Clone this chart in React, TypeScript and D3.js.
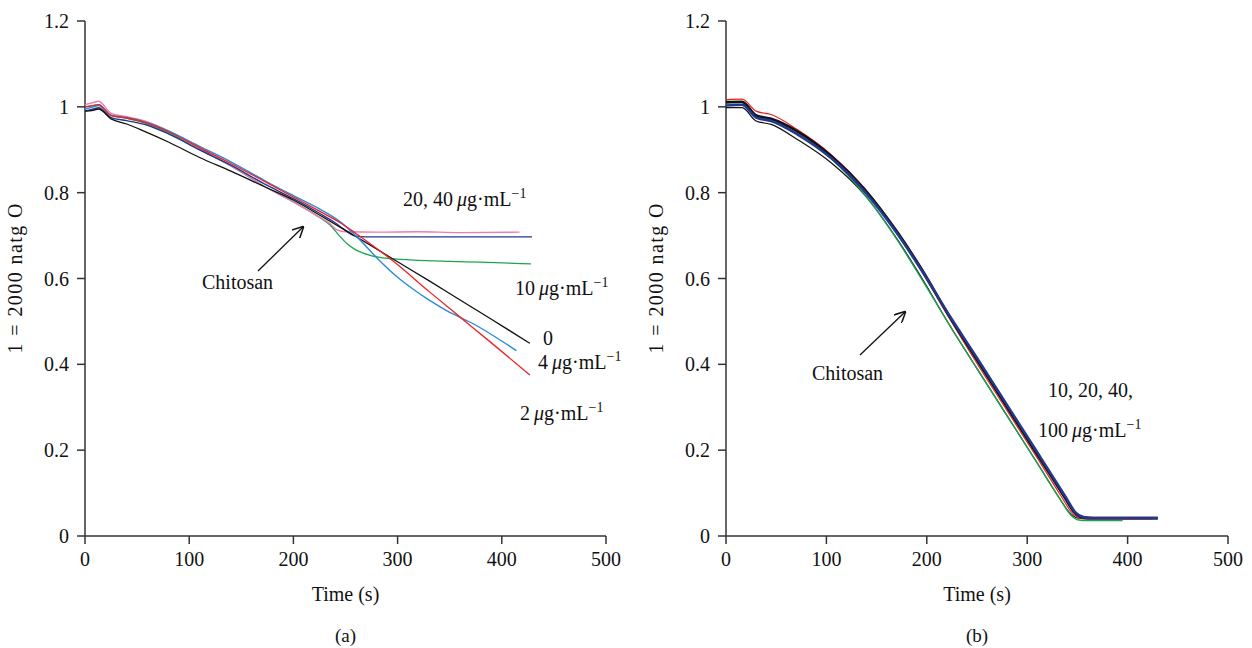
import React from "react";
import * as d3 from "d3";

// ---------- Panel (a) data: [time s, value] ----------
const aCtrl0: [number, number][] = [[0,0.99],[8,0.992],[13,0.995],[25,0.972],[40,0.96],[56,0.944],[80,0.918],[110,0.882],[140,0.85],[174,0.812],[200,0.783],[225,0.748],[250,0.712],[275,0.676],[300,0.639],[330,0.595],[360,0.55],[390,0.505],[427,0.449]];
const aRed2: [number, number][] = [[0,1.0],[8,1.003],[13,1.005],[25,0.98],[40,0.974],[60,0.962],[80,0.942],[110,0.905],[140,0.868],[174,0.824],[200,0.79],[225,0.757],[245,0.73],[260,0.705],[296,0.64],[330,0.57],[360,0.51],[390,0.45],[427,0.375]];
const aBlue4: [number, number][] = [[0,0.995],[8,1.0],[13,1.003],[25,0.98],[40,0.975],[60,0.963],[80,0.944],[110,0.908],[140,0.872],[174,0.826],[200,0.793],[225,0.762],[245,0.732],[261,0.697],[283,0.641],[300,0.603],[315,0.575],[330,0.55],[347,0.525],[373,0.494],[395,0.462],[414,0.432]];
const aGreen10: [number, number][] = [[0,1.0],[8,1.003],[13,1.005],[25,0.98],[40,0.973],[60,0.96],[80,0.94],[110,0.9],[140,0.862],[174,0.812],[200,0.779],[220,0.75],[237,0.72],[244,0.7],[251,0.682],[259,0.668],[267,0.659],[283,0.649],[300,0.645],[315,0.643],[350,0.64],[379,0.638],[428,0.634]];
const aPink: [number, number][] = [[0,1.005],[8,1.01],[13,1.013],[25,0.985],[40,0.977],[60,0.965],[80,0.944],[110,0.903],[140,0.863],[174,0.812],[200,0.778],[220,0.75],[235,0.728],[242,0.713],[250,0.709],[280,0.708],[320,0.709],[360,0.707],[417,0.708]];
const aDkBlue: [number, number][] = [[0,0.99],[8,0.995],[13,0.998],[25,0.975],[40,0.968],[60,0.957],[80,0.937],[110,0.9],[140,0.864],[174,0.818],[200,0.786],[225,0.752],[240,0.73],[250,0.712],[258,0.7],[270,0.697],[320,0.697],[380,0.697],[429,0.697]];

// ---------- Panel (b) data ----------
const bThinBlack: [number, number][] = [[0,0.998],[16,0.998],[30,0.967],[45,0.959],[71,0.924],[105,0.869],[138,0.795],[171,0.69],[194,0.605],[223,0.49],[250,0.39],[280,0.28],[310,0.17],[333,0.085],[342,0.055],[350,0.042],[360,0.04],[430,0.04]];
const bThickBlack: [number, number][] = [[0,1.011],[16,1.012],[30,0.98],[45,0.972],[71,0.943],[105,0.885],[138,0.808],[171,0.707],[194,0.625],[223,0.51],[250,0.41],[280,0.3],[310,0.19],[336,0.095],[346,0.058],[354,0.044],[365,0.042],[430,0.042]];
const bRed: [number, number][] = [[0,1.017],[16,1.018],[30,0.99],[45,0.982],[71,0.947],[105,0.888],[138,0.81],[171,0.705],[194,0.62],[223,0.505],[250,0.402],[280,0.292],[310,0.182],[334,0.092],[344,0.056],[352,0.042],[362,0.04],[425,0.04]];
const bGreen: [number, number][] = [[0,1.009],[16,1.01],[30,0.978],[45,0.97],[71,0.937],[105,0.879],[138,0.796],[171,0.688],[194,0.602],[223,0.49],[250,0.39],[280,0.28],[310,0.17],[333,0.085],[343,0.05],[350,0.038],[360,0.036],[395,0.036]];
const bBlue: [number, number][] = [[0,1.003],[16,1.005],[30,0.975],[45,0.967],[71,0.936],[105,0.88],[138,0.803],[171,0.703],[194,0.622],[223,0.512],[250,0.415],[280,0.305],[310,0.195],[338,0.092],[348,0.055],[356,0.044],[366,0.042],[430,0.042]];

const xTicks = [0, 100, 200, 300, 400, 500];
const yTicks = [0, 0.2, 0.4, 0.6, 0.8, 1, 1.2];

const FONT = "'Liberation Serif', 'Times New Roman', serif";
const FS = 20;

type Series = { data: [number, number][]; color: string; width: number };

function Conc({ x, y, num }: { x: number; y: number; num: string }) {
  return (
    <text x={x} y={y} fontFamily={FONT} fontSize={FS} fill="#111">
      {num}
      {"\u2009"}
      <tspan fontStyle="italic">μ</tspan>
      g·mL
      <tspan dy={-8} fontSize={14}>−1</tspan>
    </text>
  );
}

function Panel({
  x0, x1, series, letter, children,
}: {
  x0: number; x1: number; series: Series[]; letter: string; children?: React.ReactNode;
}) {
  const yTop = 21, yBot = 536;
  const x = d3.scaleLinear().domain([0, 500]).range([x0, x1]);
  const y = d3.scaleLinear().domain([0, 1.2]).range([yBot, yTop]);
  const line = d3.line<[number, number]>().x(d => x(d[0])).y(d => y(d[1])).curve(d3.curveMonotoneX);
  const cx = (x0 + x1) / 2;
  return (
    <g>
      <line x1={x0} x2={x0} y1={yTop} y2={yBot} stroke="#333" strokeWidth={1.5} />
      <line x1={x0} x2={x1} y1={yBot} y2={yBot} stroke="#333" strokeWidth={1.5} />
      {yTicks.map(t => (
        <g key={"y" + t}>
          <line x1={x0 - 8} x2={x0} y1={y(t)} y2={y(t)} stroke="#333" strokeWidth={1.5} />
          <text x={x0 - 16} y={y(t)} dy="0.35em" textAnchor="end" fontFamily={FONT} fontSize={FS} fill="#111">
            {d3.format("~g")(t)}
          </text>
        </g>
      ))}
      {xTicks.map(t => (
        <g key={"x" + t}>
          <line x1={x(t)} x2={x(t)} y1={yBot} y2={yBot + 8} stroke="#333" strokeWidth={1.5} />
          <text x={x(t)} y={yBot + 30} textAnchor="middle" fontFamily={FONT} fontSize={FS} fill="#111">
            {t}
          </text>
        </g>
      ))}
      <text x={cx} y={yBot + 65} textAnchor="middle" fontFamily={FONT} fontSize={FS} fill="#111">Time (s)</text>
      <text x={cx} y={yBot + 106} textAnchor="middle" fontFamily={FONT} fontSize={FS - 1} fill="#111">({letter})</text>
      <text
        transform={`translate(${x0 - 63},${(yTop + yBot) / 2}) rotate(-90)`}
        textAnchor="middle" fontFamily={FONT} fontSize={FS} fill="#111"
        textLength={150} lengthAdjust="spacing"
      >
        1 = 2000 natg O
      </text>
      {series.map((s, i) => (
        <path key={i} d={line(s.data) || ""} fill="none" stroke={s.color} strokeWidth={s.width} strokeLinejoin="round" />
      ))}
      {children}
    </g>
  );
}

const RED = "#ec2227";
const LBLUE = "#2a8ad6";
const GREEN = "#1ea34f";
const DKBLUE = "#22388c";
const PINK = "#ee7bb2";
const BLACK = "#111111";

export default function App() {
  const seriesA: Series[] = [
    { data: aGreen10, color: GREEN, width: 1.3 },
    { data: aPink, color: PINK, width: 1.4 },
    { data: aDkBlue, color: DKBLUE, width: 1.4 },
    { data: aCtrl0, color: BLACK, width: 1.3 },
    { data: aBlue4, color: LBLUE, width: 1.4 },
    { data: aRed2, color: RED, width: 1.3 },
  ];
  const seriesB: Series[] = [
    { data: bThinBlack, color: BLACK, width: 1.2 },
    { data: bGreen, color: GREEN, width: 1.4 },
    { data: bRed, color: RED, width: 1.2 },
    { data: bThickBlack, color: BLACK, width: 2.6 },
    { data: bBlue, color: DKBLUE, width: 2.6 },
  ];
  return (
    <svg width={1252} height={648} style={{ position: "absolute", left: 0, top: 0, background: "#fff" }}>
      <defs>
        <marker id="arr" viewBox="0 0 10 10" refX="9" refY="5" markerWidth="9" markerHeight="9" orient="auto">
          <path d="M0,0 L10,5 L0,10" fill="none" stroke="#111" strokeWidth="1.3" />
        </marker>
      </defs>
      <rect width={1252} height={648} fill="#fff" />
      <Panel x0={85} x1={606} series={seriesA} letter="a">
        <Conc x={403} y={206} num="20, 40" />
        <Conc x={515} y={295} num="10" />
        <text x={543} y={345} fontFamily={FONT} fontSize={FS} fill="#111">0</text>
        <Conc x={538} y={369} num="4" />
        <Conc x={520} y={420} num="2" />
        <text x={202} y={289} fontFamily={FONT} fontSize={FS} fill="#111">Chitosan</text>
        <line x1={258} y1={271} x2={303} y2={227} stroke="#111" strokeWidth={1.3} markerEnd="url(#arr)" />
      </Panel>
      <Panel x0={726} x1={1228} series={seriesB} letter="b">
        <text x={1048} y={397} fontFamily={FONT} fontSize={FS} fill="#111">10, 20, 40,</text>
        <Conc x={1038} y={437} num="100" />
        <text x={812} y={380} fontFamily={FONT} fontSize={FS} fill="#111">Chitosan</text>
        <line x1={860} y1={355} x2={905} y2={312} stroke="#111" strokeWidth={1.3} markerEnd="url(#arr)" />
      </Panel>
    </svg>
  );
}
